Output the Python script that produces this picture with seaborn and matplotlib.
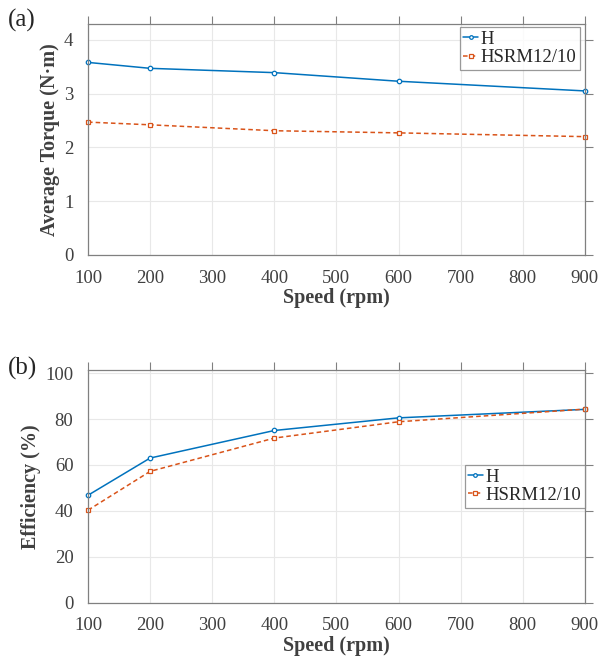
import numpy as np
import pandas as pd
import matplotlib
matplotlib.use("Agg")
import matplotlib.pyplot as plt
import seaborn as sns

speed = [100, 200, 400, 600, 900]
torque_h = [3.58, 3.47, 3.39, 3.23, 3.05]
torque_hsrm = [2.47, 2.42, 2.31, 2.27, 2.20]
eff_h = [46.8, 63.0, 75.0, 80.5, 84.2]
eff_hsrm = [40.3, 57.2, 71.7, 78.8, 84.3]
series_names = ["H", "HSRM12/10"]
xticks = [100, 200, 300, 400, 500, 600, 700, 800, 900]

sns.set_theme(style="white")
plt.rcParams["font.family"] = ["Liberation Serif", "DejaVu Serif"]

blue = "#0072BD"
orange = "#D95319"
spine_c = "#808080"
text_c = "#404040"

fig = plt.figure(figsize=(6.0, 6.58), dpi=100)
ax1 = fig.add_axes([0.1467, 0.6125, 0.828, 0.3515])
ax2 = fig.add_axes([0.1467, 0.0840, 0.828, 0.3532])

def style(ax, ylim, yticks, ylabel, letter, letter_y, legend_anchor):
    ax.set_xlim(100, 900)
    ax.set_ylim(*ylim)
    ax.set_xticks(xticks)
    ax.set_yticks(yticks)
    ax.grid(True, color="#e8e8e8", linewidth=0.8)
    ax.set_axisbelow(True)
    for s in ax.spines.values():
        s.set_color(spine_c)
        s.set_linewidth(0.9)
        s.set_visible(True)
    ax.tick_params(axis="both", direction="out", length=5.5, width=0.8, color=spine_c,
                   labelsize=13.5, labelcolor=text_c, top=True, right=True,
                   labeltop=False, labelright=False, pad=5)
    ax.set_xlabel("Speed (rpm)", fontsize=14.5, fontweight="bold", color=text_c, labelpad=1)
    ax.set_ylabel(ylabel, fontsize=14.5, fontweight="bold", color=text_c, labelpad=3)
    leg = ax.legend(loc="upper right", bbox_to_anchor=legend_anchor, fontsize=13.5,
                    frameon=True, fancybox=False, handlelength=0.75, handletextpad=0.15,
                    borderpad=0.2, labelspacing=0.05, borderaxespad=0)
    leg.get_frame().set_edgecolor(spine_c)
    leg.get_frame().set_linewidth(0.9)
    for t in leg.get_texts():
        t.set_color("#262626")
    for h in leg.legend_handles:
        h.set_markeredgecolor(h.get_color())
        h.set_markerfacecolor("white")
        h.set_markersize(2.6)
    fig.text(8 / 600, 1 - letter_y / 658, letter, fontsize=18, color="#262626",
             ha="left", va="center")

df1 = pd.DataFrame({"speed": speed * 2, "val": torque_h + torque_hsrm,
                    "series": [series_names[0]] * 5 + [series_names[1]] * 5})
df2 = pd.DataFrame({"speed": speed * 2, "val": eff_h + eff_hsrm,
                    "series": [series_names[0]] * 5 + [series_names[1]] * 5})

for ax, df in [(ax1, df1), (ax2, df2)]:
    sns.lineplot(data=df, x="speed", y="val", hue="series", style="series",
                 palette=[blue, orange], dashes=[(None, None), (3, 2)],
                 markers=["o", "s"], markersize=3.2,
                 markeredgewidth=0.9, linewidth=1.1, ax=ax)
    for ln in ax.lines:
        ln.set_markeredgecolor(ln.get_color())
        ln.set_markerfacecolor("white")
        ln.set_clip_on(False)

style(ax1, (0, 4.3), [0, 1, 2, 3, 4], "Average Torque (N·m)", "(a)", 20,
      (0.99, 0.985))
style(ax2, (0, 101.2), [0, 20, 40, 60, 80, 100], "Efficiency (%)", "(b)", 368,
      (1.0, 0.593))

fig.savefig("out.png", dpi=100)
